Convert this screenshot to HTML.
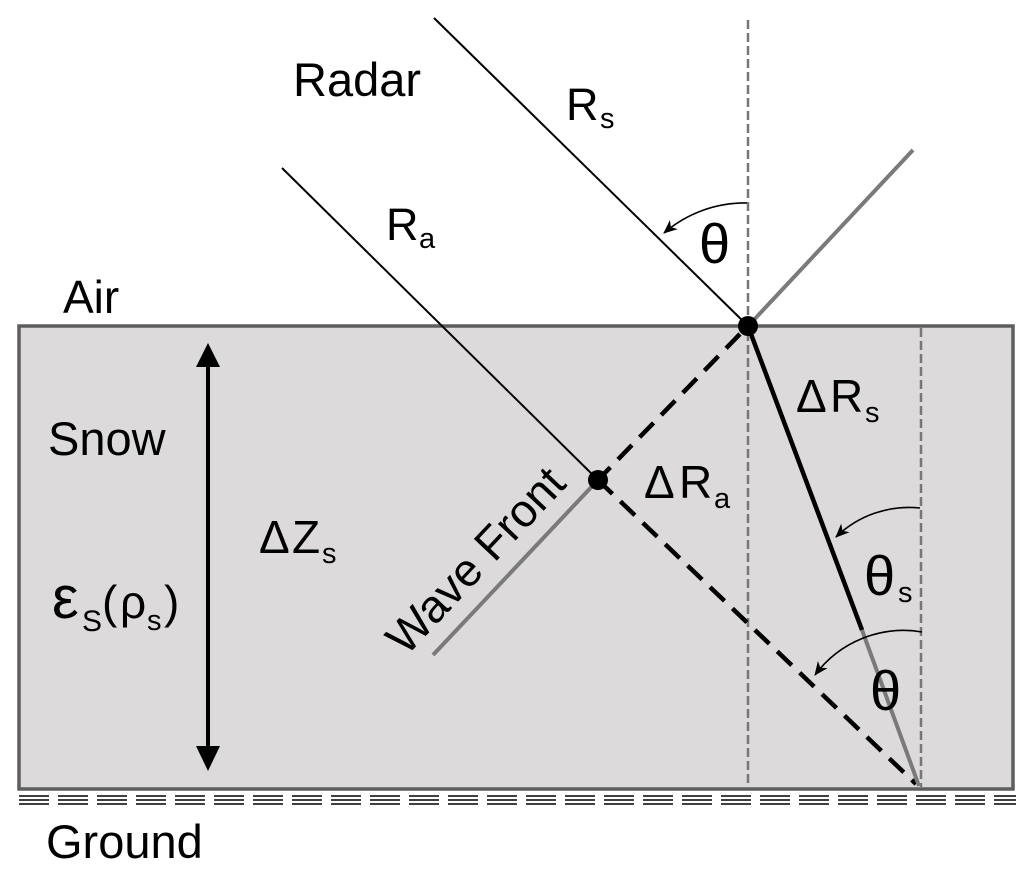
<!DOCTYPE html>
<html>
<head>
<meta charset="utf-8">
<style>
  html,body{margin:0;padding:0;background:#fff;}
  svg{display:block;}
  text{font-family:"Liberation Sans", Arial, sans-serif; fill:#000;}
</style>
</head>
<body>
<svg width="1033" height="877" viewBox="0 0 1033 877" xmlns="http://www.w3.org/2000/svg">
  <defs>
    <marker id="ah" markerWidth="16" markerHeight="14" refX="13" refY="7" orient="auto" markerUnits="userSpaceOnUse">
      <path d="M0,1 L14,7 L0,13 L4,7 z" fill="#000"/>
    </marker>
  </defs>

  <!-- snow box -->
  <rect x="19" y="326" width="994" height="463" fill="#dcdadb" stroke="#5e5e5e" stroke-width="3.5"/>

  <!-- ground dashes -->
  <g stroke="#000" stroke-width="1.6" stroke-dasharray="30 9">
    <line x1="19" y1="796" x2="1016" y2="796"/>
    <line x1="19" y1="800" x2="1016" y2="800"/>
    <line x1="19" y1="804" x2="1016" y2="804"/>
  </g>

  <!-- vertical dashed normals -->
  <line x1="748" y1="20" x2="748" y2="787" stroke="#777" stroke-width="2.5" stroke-dasharray="9 4"/>
  <line x1="921" y1="328" x2="921" y2="787" stroke="#777" stroke-width="2.5" stroke-dasharray="9 4"/>

  <!-- incident rays -->
  <line x1="434" y1="18" x2="748" y2="326" stroke="#000" stroke-width="2"/>
  <line x1="282" y1="168" x2="598" y2="480" stroke="#000" stroke-width="2"/>

  <!-- reflected ray -->
  <line x1="750" y1="324" x2="913" y2="150" stroke="#7a7a7a" stroke-width="4"/>

  <!-- wave front -->
  <line x1="598" y1="480" x2="433" y2="655" stroke="#7a7a7a" stroke-width="4"/>

  <!-- dashed black lines -->
  <g stroke="#000" stroke-width="4.5" stroke-dasharray="20 11">
    <line x1="740" y1="334" x2="598" y2="480"/>
    <line x1="598" y1="480" x2="916" y2="784"/>
  </g>

  <!-- refracted ray -->
  <line x1="748" y1="326" x2="862" y2="630" stroke="#000" stroke-width="4.5"/>
  <line x1="862" y1="630" x2="919" y2="786" stroke="#7a7a7a" stroke-width="4"/>

  <!-- dots -->
  <circle cx="748" cy="326" r="10" fill="#000"/>
  <circle cx="598" cy="480" r="10" fill="#000"/>

  <!-- angle arcs -->
  <g fill="none" stroke="#000" stroke-width="1.6" marker-end="url(#ah)">
    <path d="M747,203 A124,124 0 0,0 664,233"/>
    <path d="M920,508 A105,105 0 0,0 836,537"/>
    <path d="M922,632 A110,110 0 0,0 815,675"/>
  </g>

  <!-- double arrow dZ -->
  <line x1="208" y1="362" x2="208" y2="750" stroke="#000" stroke-width="4"/>
  <path d="M208,343 L220,367 L196,367 z" fill="#000"/>
  <path d="M208,771 L220,746 L196,746 z" fill="#000"/>

  <!-- labels -->
  <text x="293" y="96" font-size="47">Radar</text>

  <text x="566" y="120" font-size="45">R</text>
  <text x="600" y="128" font-size="29">s</text>

  <text x="386" y="240" font-size="45">R</text>
  <text x="419" y="248" font-size="29">a</text>

  <text x="699" y="263" font-size="56">θ</text>

  <text x="63" y="313" font-size="46">Air</text>
  <text x="48" y="455" font-size="47">Snow</text>

  <text x="259" y="553" font-size="46">Δ</text>
  <text x="292" y="553" font-size="46">Z</text>
  <text x="322" y="563" font-size="29">s</text>

  <text x="52" y="618" font-size="60">ε</text>
  <text x="82" y="631" font-size="30">S</text>
  <text x="102" y="618" font-size="46">(</text>
  <text x="120" y="618" font-size="46">ρ</text>
  <text x="147" y="630" font-size="29">s</text>
  <text x="164" y="618" font-size="46">)</text>

  <text x="796" y="412" font-size="46">Δ</text>
  <text x="830" y="412" font-size="46">R</text>
  <text x="865" y="422" font-size="29">s</text>

  <text x="644" y="498" font-size="46">Δ</text>
  <text x="679" y="498" font-size="46">R</text>
  <text x="714" y="508" font-size="29">a</text>

  <text x="864" y="595" font-size="56">θ</text>
  <text x="898" y="602" font-size="29">s</text>

  <text x="870" y="710" font-size="56">θ</text>

  <text x="0" y="0" font-size="46" transform="translate(406,657) rotate(-46.7)">Wave Front</text>

  <text x="46" y="858" font-size="47">Ground</text>
</svg>
</body>
</html>
